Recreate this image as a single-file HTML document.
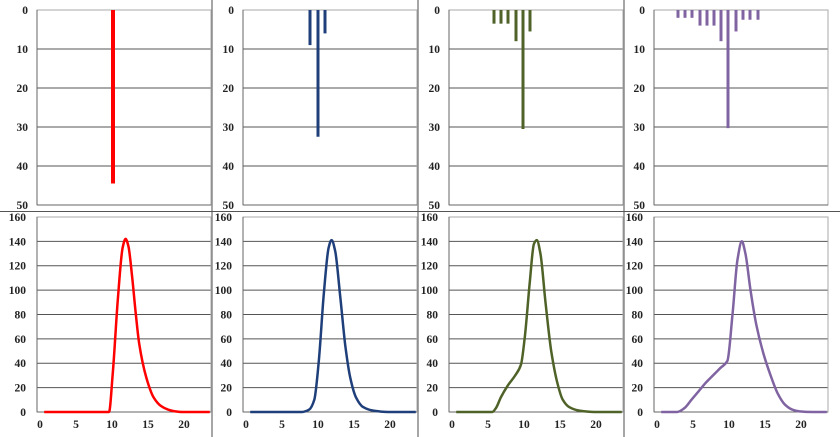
<!DOCTYPE html>
<html><head><meta charset="utf-8"><style>
html,body{margin:0;padding:0;background:#fff;width:840px;height:437px;overflow:hidden}
text{font-family:"Liberation Serif",serif;font-size:11.5px;font-weight:bold;fill:#222}
</style></head><body>
<svg id="s" width="840" height="437" xmlns="http://www.w3.org/2000/svg"></svg>
<script>
const s=document.getElementById('s');let h='';
const X0=[37,243,449,654],W=174;
const cols=['#ff0000','#1f3f7a','#4f6228','#8064a2'];
const bars=[
 [[113,44.5]],
 [[310,9],[318,32.5],[325,6]],
 [[494,3.5],[501,3.5],[508,3.5],[516,8],[523,30.5],[530,5.5]],
 [[678,2],[685,2],[692,2],[700,4],[707,4],[714,4],[721,8],[728,30.3],[736,5.5],[743,2.5],[750,2.5],[758,2.5]]];
const curves=[
 [[1,0],[10,0],[10.5,30],[11.2,90],[11.9,135],[12.3,142],[12.7,136],[13.2,112],[13.7,82],[14.2,56],[15.2,28],[16.2,12],[17.2,5],[18.2,2],[19.2,.5],[20.2,0],[24,0]],
 [[1,0],[8.2,0],[9.2,2],[9.9,10],[10.5,40],[11.2,95],[11.9,135],[12.3,141],[12.8,132],[13.5,95],[14.2,55],[14.9,28],[15.7,12],[16.7,4],[18.2,1],[20.2,0],[24,0]],
 [[1,0],[6,0],[6.5,3],[7.2,12],[8.2,22],[9.2,30],[10,39],[10.5,60],[11.2,105],[11.8,138],[12.2,141],[12.7,130],[13.4,90],[14.2,50],[15,25],[15.8,10],[16.7,4],[18.2,1],[20.2,0],[24,0]],
 [[1,0],[3.2,0],[4.2,3],[5.2,10],[6.2,17],[7.2,24],[8.2,30],[9.2,36],[10.2,42],[10.9,80],[11.6,125],[12.2,140],[12.7,130],[13.4,100],[14.2,72],[15.2,48],[16.2,30],[17.2,15],[18.2,6],[19.2,2],[20.2,.5],[22,0],[24,0]]];
function mono(p){const n=p.length,d=[],m=[];
 for(let i=0;i<n-1;i++)d.push((p[i+1][1]-p[i][1])/(p[i+1][0]-p[i][0]));
 m[0]=d[0];m[n-1]=d[n-2];
 for(let i=1;i<n-1;i++){if(d[i-1]*d[i]<=0)m[i]=0;else{const h0=p[i][0]-p[i-1][0],h1=p[i+1][0]-p[i][0];m[i]=3*(h0+h1)/((2*h1+h0)/d[i-1]+(h1+2*h0)/d[i]);}}
 let s='M'+p[0][0].toFixed(1)+','+p[0][1].toFixed(1);
 for(let i=0;i<n-1;i++){const hh=(p[i+1][0]-p[i][0])/3;
 s+=' C'+(p[i][0]+hh).toFixed(1)+','+(p[i][1]+m[i]*hh).toFixed(1)+' '+(p[i+1][0]-hh).toFixed(1)+','+(p[i+1][1]-m[i+1]*hh).toFixed(1)+' '+p[i+1][0].toFixed(1)+','+p[i+1][1].toFixed(1);}
 return s;}
for(let k=0;k<4;k++){const x0=X0[k],x1=x0+W;
 for(let v=10;v<=40;v+=10){const y=10+v*3.9;h+=`<line x1="${x0}" x2="${x1}" y1="${y}" y2="${y}" stroke="#555" stroke-width="1"/>`;}
 h+=`<rect x="${x0}" y="10" width="${W}" height="195" fill="none" stroke="#aaa"/>`;
 h+=`<line x1="${x0}" x2="${x0}" y1="10" y2="205" stroke="#666"/><line x1="${x0}" x2="${x1}" y1="205" y2="205" stroke="#666"/>`;
 for(let v=0;v<=50;v+=10)h+=`<text x="${x0-9}" y="${10+v*3.9+4}" text-anchor="end">${v}</text>`;
 for(const [bx,d] of bars[k])h+=`<line x1="${bx}" x2="${bx}" y1="10" y2="${10+d*3.9}" stroke="${cols[k]}" stroke-width="${k==0?4:3}"/>`;
 for(let v=20;v<=140;v+=20){const y=412-v*1.219;h+=`<line x1="${x0}" x2="${x1}" y1="${y}" y2="${y}" stroke="#555"/>`;}
 h+=`<rect x="${x0}" y="217" width="${W}" height="195" fill="none" stroke="#aaa"/>`;
 h+=`<line x1="${x0}" x2="${x0}" y1="217" y2="412" stroke="#666"/><line x1="${x0}" x2="${x1}" y1="412" y2="412" stroke="#666"/>`;
 for(let v=0;v<=160;v+=20)h+=`<text x="${x0-11}" y="${412-v*1.219+4}" text-anchor="end">${v}</text>`;
 for(let v=0;v<=20;v+=5)h+=`<text x="${x0+3+v*7.2}" y="428" text-anchor="middle">${v}</text>`;
 const pts=curves[k].map(([a,b])=>[x0+a*7.2,412-b*1.219]);
 h+=`<path d="${mono(pts)}" fill="none" stroke="${cols[k]}" stroke-width="2.5" stroke-linejoin="round"/>`;
}
for(const x of [212,418,624])h+=`<line x1="${x}" x2="${x}" y1="0" y2="437" stroke="#888" stroke-width="1.5"/>`;
h+=`<line x1="0" x2="840" y1="211.5" y2="211.5" stroke="#555"/>`;
s.innerHTML=h;
</script>
</body></html>
